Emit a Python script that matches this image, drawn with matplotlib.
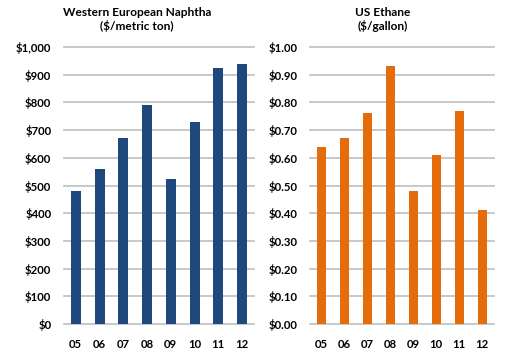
import matplotlib.pyplot as plt
from matplotlib.ticker import FuncFormatter

years = ["05", "06", "07", "08", "09", "10", "11", "12"]
naphtha = [480, 560, 670, 790, 525, 730, 925, 940]
ethane = [0.64, 0.67, 0.76, 0.93, 0.48, 0.61, 0.77, 0.41]

plt.rcParams['font.family'] = ['Lato', 'DejaVu Sans']
plt.rcParams['font.weight'] = 'bold'

fig = plt.figure(figsize=(5.11, 3.56), dpi=100)
ax1 = fig.add_axes([0.125, 0.0899, 0.372, 0.778])
ax2 = fig.add_axes([0.606, 0.0899, 0.360, 0.778])

grid_c = '#bfbfbf'


def style(ax, ticks, fmt):
    ax.set_xlim(-0.5, len(years) - 0.5)
    ax.set_yticks(ticks)
    ax.set_ylim(ticks[0], ticks[-1])
    ax.yaxis.set_major_formatter(FuncFormatter(fmt))
    ax.set_xticks(range(len(years)))
    ax.set_xticklabels(years)
    for s in ax.spines.values():
        s.set_visible(False)
    ax.grid(axis='y', color=grid_c, linewidth=1.2, clip_on=False)
    ax.set_axisbelow(True)
    ax.tick_params(length=0, labelsize=8.2)
    ax.tick_params(axis='y', pad=9)
    ax.tick_params(axis='x', pad=11)
    for lab in ax.get_xticklabels() + ax.get_yticklabels():
        lab.set_fontweight('bold')


ax1.bar(range(len(years)), naphtha, width=0.42, color='#1f497d')
style(ax1, list(range(0, 1001, 100)), lambda v, p: "${:,.0f}".format(v))
ax1.set_title("Western European Naphtha\n($/metric ton)", fontsize=8.6,
              fontweight='bold', pad=12, linespacing=1.25, x=0.384)

ax2.bar(range(len(years)), ethane, width=0.40, color='#e46c0a')
style(ax2, [i / 10 for i in range(11)], lambda v, p: "${:.2f}".format(v))
ax2.set_title("US Ethane\n($/gallon)", fontsize=8.6,
              fontweight='bold', pad=12, linespacing=1.25, x=0.397)

fig.savefig("out.png", dpi=100)
